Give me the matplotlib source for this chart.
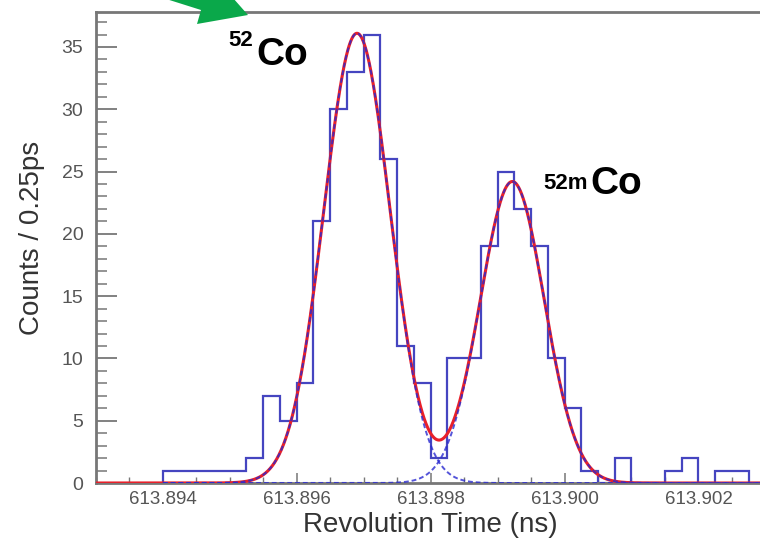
import numpy as np
import matplotlib
matplotlib.use('Agg')
import matplotlib.pyplot as plt
from matplotlib.patches import Polygon
from matplotlib.ticker import MultipleLocator, FormatStrFormatter

plt.rcParams['font.family'] = ['Liberation Sans', 'DejaVu Sans']

# 直方图数据：每格 0.25 ps，从 613.894 ns 开始
bin_start = 613.894
bin_width = 0.00025
counts = [1, 1, 1, 1, 1, 2, 7, 5, 8, 21, 30, 33, 36, 26, 11, 8, 2, 10, 10, 19,
          25, 22, 19, 10, 6, 1, 0, 2, 0, 0, 1, 2, 0, 1, 1, 0]

# 双高斯拟合参数
amp = [36.1, 24.2]
mean = [613.8969, 613.89922]
sigma = [0.000495, 0.000478]

# 图上文字
peak_labels = [('52', 'Co'), ('52m', 'Co')]

W, H = 760, 545
fig = plt.figure(figsize=(W / 100, H / 100), dpi=100)

# 坐标轴位置按像素摆放（右边框超出画面）
x0, x1 = 95.85, 765.4
y_zero, y_top = 483, 12.1
ax = fig.add_axes([x0 / W, (H - y_zero) / H, (x1 - x0) / W, (y_zero - y_top) / H])

edges = bin_start + bin_width * np.arange(len(counts) + 1)
ax.stairs(counts, edges, color='#4545c0', lw=1.6, baseline=0, zorder=2)

# 拟合曲线
xf = np.linspace(613.893, 613.903, 1500)
g1 = amp[0] * np.exp(-(xf - mean[0]) ** 2 / (2 * sigma[0] ** 2))
g2 = amp[1] * np.exp(-(xf - mean[1]) ** 2 / (2 * sigma[1] ** 2))
ax.plot(xf, g1 + g2, color='#e8202a', lw=2.2, zorder=3)
m = xf >= bin_start
ax.plot(xf[m], g1[m], color='#2a2ad0', lw=1.4, ls=(0, (2.5, 1.5)), alpha=0.8, zorder=4)
ax.plot(xf[m], g2[m], color='#2a2ad0', lw=1.4, ls=(0, (2.5, 1.5)), alpha=0.8, zorder=4)

ax.set_xlim(613.893, 613.903)
ax.set_ylim(0, 37.8)

ax.xaxis.set_major_locator(MultipleLocator(0.002))
ax.xaxis.set_minor_locator(MultipleLocator(0.0005))
ax.xaxis.set_major_formatter(FormatStrFormatter('%.3f'))
ax.yaxis.set_major_locator(MultipleLocator(5))
ax.yaxis.set_minor_locator(MultipleLocator(1))

ax.tick_params(axis='both', which='both', direction='in', color='#777777', labelcolor='#555555')
ax.tick_params(axis='y', which='major', length=15, width=1.3, labelsize=14, pad=9)
ax.tick_params(axis='y', which='minor', length=8, width=1.1)
ax.tick_params(axis='x', which='major', length=7, width=1.1, labelsize=13.5, pad=6)
ax.tick_params(axis='x', which='minor', length=4, width=1.0)

for s in ax.spines.values():
    s.set_color('#777777')
    s.set_linewidth(2)


def px(x, y):
    return x / W, 1 - y / H


# 坐标轴标题
fig.text(*px(430, 525), 'Revolution Time (ns)', fontsize=20, color='#333333',
         ha='center', va='center')
fig.text(*px(32, 238), 'Counts / 0.25ps', fontsize=20, color='#333333',
         ha='center', va='center', rotation=90)

# 峰标注
fig.text(*px(228, 46), peak_labels[0][0], fontsize=16, fontweight='bold', va='baseline')
fig.text(*px(256, 65), peak_labels[0][1], fontsize=28, fontweight='bold', va='baseline')
fig.text(*px(543, 189), peak_labels[1][0], fontsize=16, fontweight='bold', va='baseline')
fig.text(*px(590, 194), peak_labels[1][1], fontsize=28, fontweight='bold', va='baseline')

# 顶部绿色箭头
arrow = Polygon([px(163, -2), px(201, 10), px(197, 24), px(248, 15), px(233, -2)],
                closed=True, transform=fig.transFigure, facecolor='#0aa84a',
                edgecolor='none', zorder=10)
fig.patches.append(arrow)

fig.savefig('out.png', dpi=100)
